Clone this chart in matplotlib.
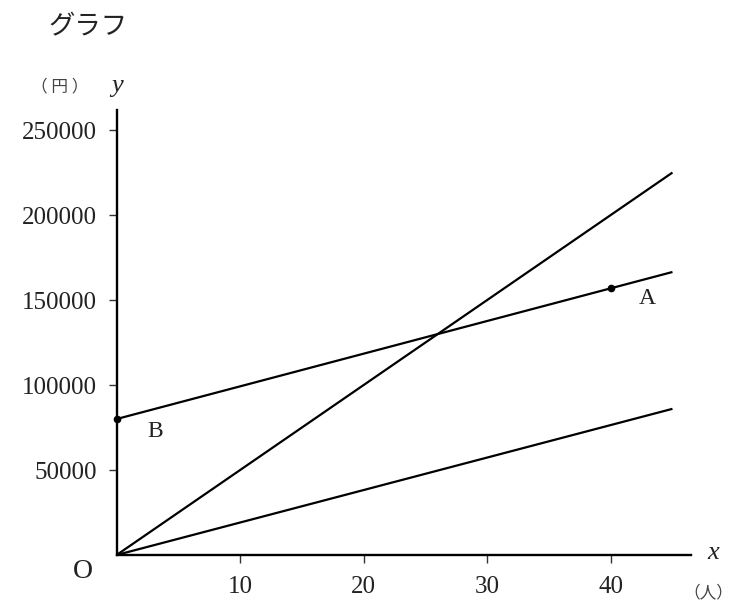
import matplotlib
matplotlib.use("Agg")
import matplotlib.pyplot as plt

# Data
line_steep_x = [0, 45]
line_steep_y = [0, 225000]
line_ba_x = [0, 45]
line_ba_y = [80000, 166500]
line_low_x = [0, 45]
line_low_y = [0, 86000]
points_x = [40, 0]
points_y = [157000, 80000]
point_labels = ["A", "B"]
x_ticks = [10, 20, 30, 40]
y_ticks = [50000, 100000, 150000, 200000, 250000]

W, H = 737, 605
fig = plt.figure(figsize=(W / 100, H / 100), dpi=100)
ax = fig.add_axes([116.6 / W, 1 - 555 / H, (691 - 116.6) / W, (555 - 110) / H])
ax.set_xlim(0, 46.5)
ax.set_ylim(0, 261800)

lw = 1.6
ax.plot(line_steep_x, line_steep_y, color="black", lw=lw, solid_capstyle="butt")
ax.plot(line_ba_x, line_ba_y, color="black", lw=lw, solid_capstyle="butt")
ax.plot(line_low_x, line_low_y, color="black", lw=lw, solid_capstyle="butt")
ax.plot(points_x, points_y, "o", color="black", ms=4.5, clip_on=False, zorder=5)

serif = ["Liberation Serif", "DejaVu Serif"]
ax.text(40 + 3.0, 157000 - 6000, point_labels[0], fontsize=17, family=serif,
        color="#222222", ha="center", va="center")
ax.text(0 + 3.1, 80000 - 7500, point_labels[1], fontsize=17, family=serif,
        color="#222222", ha="center", va="center")

for side in ["top", "right"]:
    ax.spines[side].set_visible(False)
for side in ["left", "bottom"]:
    ax.spines[side].set_linewidth(1.7)
    ax.spines[side].set_color("black")

ax.set_xticks(x_ticks)
ax.set_xticklabels([str(t) for t in x_ticks])
ax.set_yticks(y_ticks)
ax.set_yticklabels([str(t) for t in y_ticks])
ax.tick_params(direction="out", length=6, width=1.0, colors="#333333",
               labelsize=18)
ax.tick_params(axis="y", pad=8)
ax.tick_params(axis="x", pad=9)
for lbl in ax.get_xticklabels() + ax.get_yticklabels():
    lbl.set_family(serif)
    lbl.set_color("#222222")

cjk = ["Noto Sans CJK JP", "DejaVu Sans"]
fig.text(88 / W, 1 - 27 / H, "グラフ", fontsize=19, family=cjk,
         color="#222222", ha="center", va="center")
fig.text(60 / W, 1 - 87 / H, "（ 円 ）", fontsize=12, family=cjk,
         color="#444444", ha="center", va="center")
fig.text(117 / W, 1 - 86 / H, "y", fontsize=19, family=serif, style="italic",
         color="#222222", ha="center", va="center")
fig.text(83 / W, 1 - 571 / H, "O", fontsize=20, family=serif,
         color="#222222", ha="center", va="center")
fig.text(713 / W, 1 - 553 / H, "x", fontsize=19, family=serif, style="italic",
         color="#222222", ha="center", va="center")
fig.text(733 / W, 1 - 593 / H, "（人）", fontsize=12, family=cjk,
         color="#444444", ha="right", va="center")

fig.savefig("out.png", dpi=100, facecolor="white")
